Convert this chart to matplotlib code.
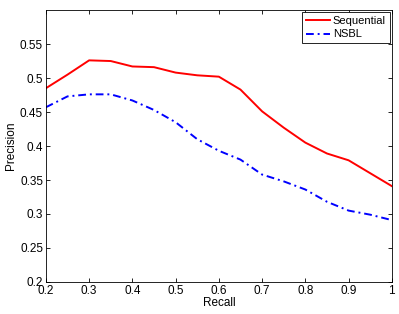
import matplotlib.pyplot as plt
import numpy as np

recall = [0.2, 0.25, 0.3, 0.35, 0.4, 0.45, 0.5, 0.55, 0.6, 0.65, 0.7, 0.75, 0.8, 0.85, 0.9, 0.95, 1.0]
sequential = [0.485, 0.505, 0.526, 0.525, 0.517, 0.516, 0.508, 0.504, 0.502, 0.483, 0.451, 0.427,
              0.405, 0.389, 0.379, 0.360, 0.341]
nsbl = [0.457, 0.473, 0.476, 0.476, 0.467, 0.453, 0.435, 0.410, 0.393, 0.380, 0.358, 0.348,
        0.336, 0.318, 0.305, 0.299, 0.291]

xticks = [0.2, 0.3, 0.4, 0.5, 0.6, 0.7, 0.8, 0.9, 1]
xticklabels = ['0.2', '0.3', '0.4', '0.5', '0.6', '0.7', '0.8', '0.9', '1']
yticks = [0.2, 0.25, 0.3, 0.35, 0.4, 0.45, 0.5, 0.55]
yticklabels = ['0.2', '0.25', '0.3', '0.35', '0.4', '0.45', '0.5', '0.55']

plt.rcParams['font.family'] = ['Liberation Sans', 'DejaVu Sans']

fig = plt.figure(figsize=(3.99, 3.14), dpi=100)
ax = fig.add_axes([0.115, 0.102, 0.867, 0.866])

ax.plot(recall, sequential, color='red', linewidth=1.4, label='Sequential')
ax.plot(recall, nsbl, color='blue', linewidth=1.4, dashes=(4, 2, 1, 2), label='NSBL')

ax.set_xlim(0.2, 1.0)
ax.set_ylim(0.2, 0.6)
ax.set_xticks(xticks)
ax.set_xticklabels(xticklabels)
ax.set_yticks(yticks)
ax.set_yticklabels(yticklabels)
ax.tick_params(direction='in', top=True, right=True, labelsize=8.5, length=3, width=0.6, pad=2)
for s in ax.spines.values():
    s.set_linewidth(0.6)

ax.set_xlabel('Recall', fontsize=8.5, labelpad=0)
ax.set_ylabel('Precision', fontsize=8.5, labelpad=2)

leg = ax.legend(loc='upper right', fontsize=8, fancybox=False, framealpha=1,
                edgecolor='black', borderpad=0.35, handlelength=2.2, handletextpad=0.2,
                labelspacing=0.3, borderaxespad=0.2)
leg.get_frame().set_linewidth(0.6)

plt.savefig('out.png', dpi=100)
